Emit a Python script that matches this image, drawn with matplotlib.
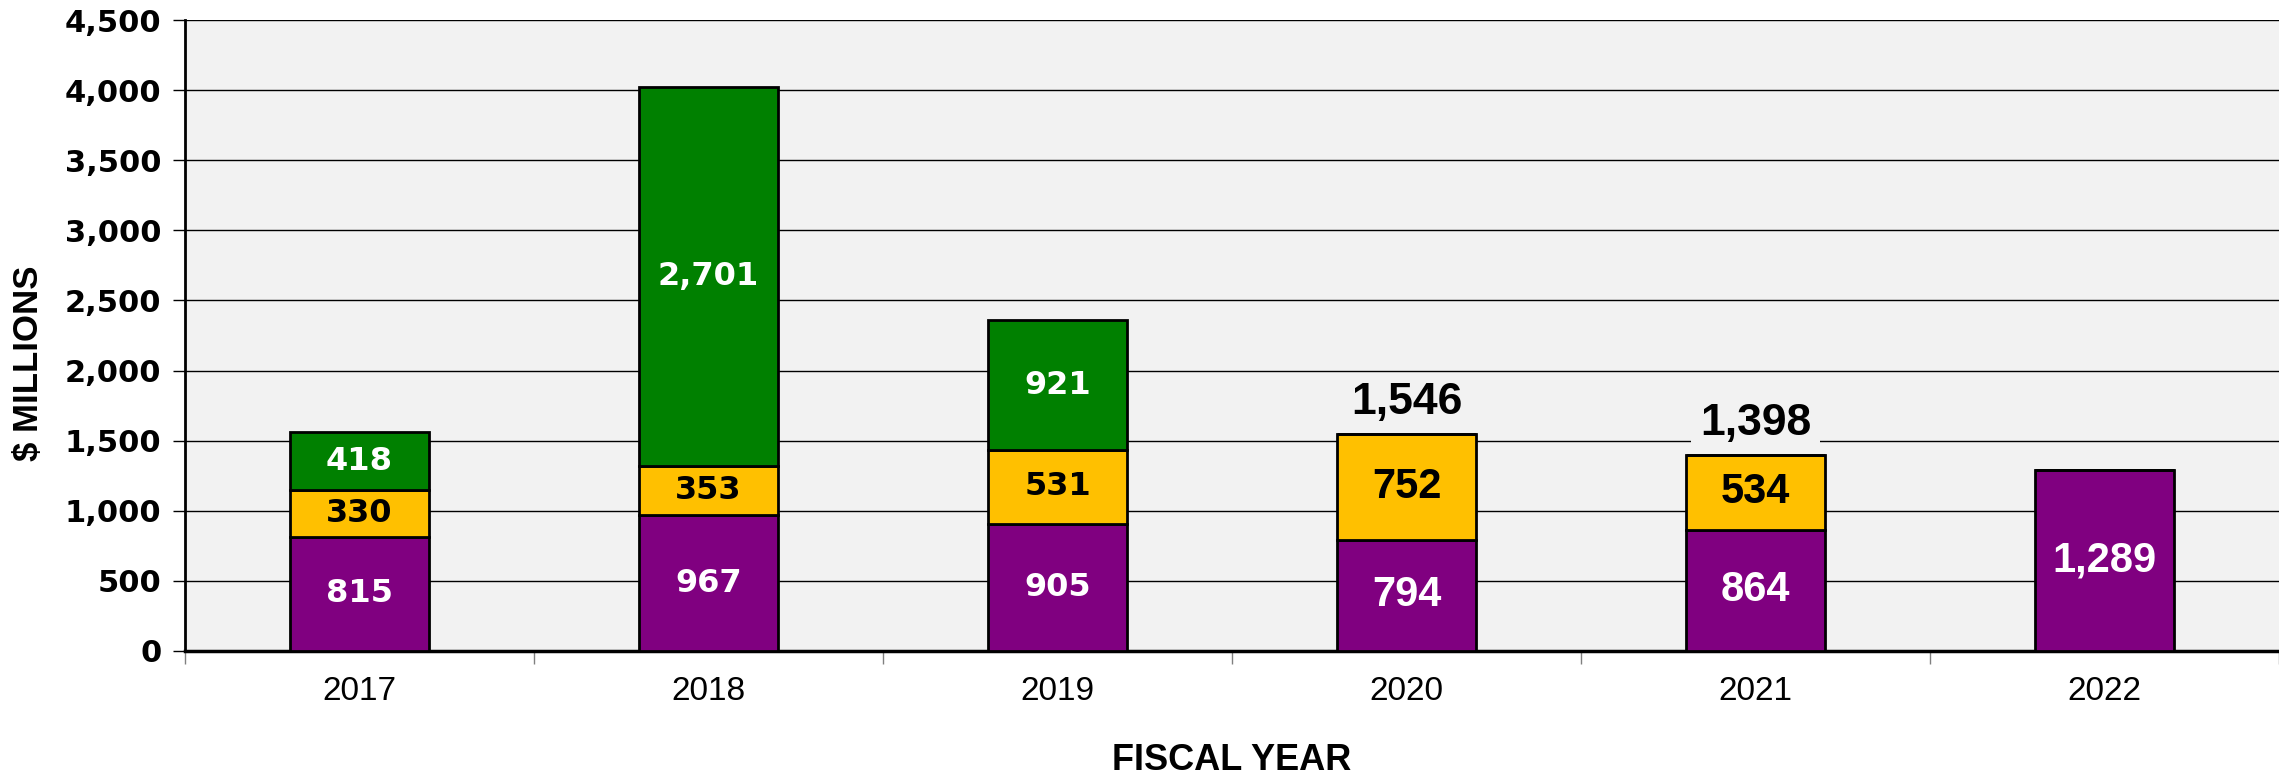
import matplotlib
matplotlib.use("Agg")
import matplotlib.pyplot as plt
from matplotlib.ticker import FuncFormatter, FixedLocator
import numpy as np

years = ["2017", "2018", "2019", "2020", "2021", "2022"]
purple_vals = [815, 967, 905, 794, 864, 1289]
yellow_vals = [330, 353, 531, 752, 534, 0]
green_vals = [418, 2701, 921, 0, 0, 0]
totals_shown = {3: 1546, 4: 1398}

C_PURPLE = "#800080"
C_YELLOW = "#FFC000"
C_GREEN = "#008000"
BG = "#F2F2F2"

NARROW = ["Liberation Sans Narrow", "Liberation Sans", "DejaVu Sans"]
WIDE = ["DejaVu Sans"]
ARIAL = ["Liberation Sans", "DejaVu Sans"]

fig = plt.figure(figsize=(22.79, 7.76), dpi=100)
ax = fig.add_axes([185 / 2279, 1 - 651 / 776, (2279 - 185) / 2279, (651 - 20) / 776])
ax.set_facecolor(BG)

x = np.arange(len(years))
w = 0.4
p = np.array(purple_vals)
yv = np.array(yellow_vals)
g = np.array(green_vals)

ax.set_axisbelow(True)
ax.yaxis.grid(True, color="black", linewidth=1.0)
ax.bar(x, p, w, color=C_PURPLE, edgecolor="black", linewidth=2, zorder=3)
ax.bar(x, yv, w, bottom=p, color=C_YELLOW, edgecolor="black", linewidth=2, zorder=3)
ax.bar(x, g, w, bottom=p + yv, color=C_GREEN, edgecolor="black", linewidth=2, zorder=3)

for i in range(len(years)):
    fam = WIDE if i < 3 else NARROW
    fs = 23 if i < 3 else 30
    if p[i] > 0:
        ax.text(x[i], p[i] / 2, f"{p[i]:,}", ha="center", va="center", color="white",
                fontsize=fs, fontweight="bold", family=fam, zorder=4)
    if yv[i] > 0:
        ax.text(x[i], p[i] + yv[i] / 2, f"{yv[i]:,}", ha="center", va="center", color="black",
                fontsize=fs, fontweight="bold", family=fam, zorder=4)
    if g[i] > 0:
        ax.text(x[i], p[i] + yv[i] + g[i] / 2, f"{g[i]:,}", ha="center", va="center", color="white",
                fontsize=fs, fontweight="bold", family=fam, zorder=4)

for i, tot in totals_shown.items():
    top = p[i] + yv[i] + g[i]
    ax.annotate(f"{tot:,}", xy=(x[i], top), xytext=(0, 8), textcoords="offset points",
                ha="center", va="bottom", fontsize=32, fontweight="bold", family=NARROW,
                bbox=dict(boxstyle="square,pad=0.2", facecolor=BG, edgecolor="none"), zorder=4)

ax.set_xlim(-0.5, len(years) - 0.5)
ax.set_ylim(0, 4500)
ax.set_yticks(np.arange(0, 4501, 500))
ax.yaxis.set_major_formatter(FuncFormatter(lambda v, _: f"{int(v):,}"))
ax.tick_params(axis="y", length=9, width=1, labelsize=22, pad=8)
for lab in ax.get_yticklabels():
    lab.set_fontweight("bold")
    lab.set_family(WIDE)

ax.set_xticks(x)
ax.set_xticklabels(years, fontsize=24, family=ARIAL)
ax.tick_params(axis="x", which="major", length=0, pad=18)
ax.xaxis.set_minor_locator(FixedLocator(np.arange(-0.5, len(years), 1.0)))
ax.tick_params(axis="x", which="minor", length=9, width=1, color="#808080")

for s in ["top", "right"]:
    ax.spines[s].set_visible(False)
ax.spines["left"].set_linewidth(2)
ax.spines["bottom"].set_linewidth(2.5)

ax.set_xlabel("FISCAL YEAR", fontsize=26, fontweight="bold", family=ARIAL, va="center")
ax.xaxis.set_label_coords(0.5, -0.174)
ax.set_ylabel("$ MILLIONS", fontsize=25, fontweight="bold", family=NARROW, va="center")
ax.yaxis.set_label_coords(-0.0745, 0.456)

fig.savefig("out.png", dpi=100, facecolor="white")
